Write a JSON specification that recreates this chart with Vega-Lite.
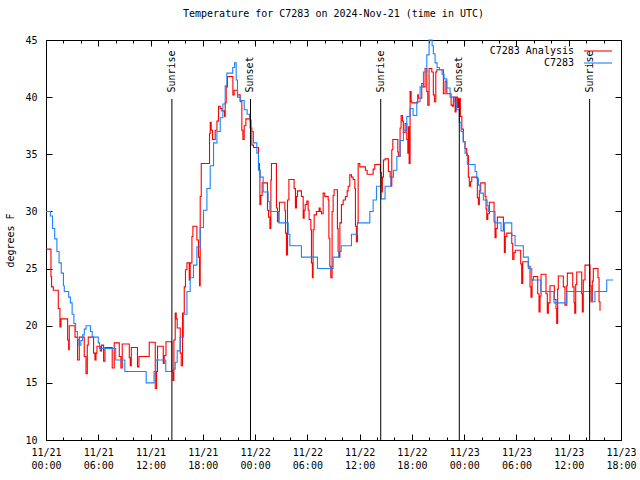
{
"$schema": "https://vega.github.io/schema/vega-lite/v6.json",
"width": 575, "height": 400,
"autosize": {"type": "none"},
"padding": {"left": 46, "top": 40, "right": 19, "bottom": 40},
"title": {"text": "Temperature for C7283 on 2024-Nov-21 (time in UTC)", "font": "DejaVu Sans Mono", "fontSize": 10, "fontWeight": "normal", "color": "black", "anchor": "middle", "offset": 16},
"config": {
  "view": {"stroke": "black", "strokeWidth": 1},
  "axis": {"domain": false, "grid": false, "labelFont": "DejaVu Sans Mono", "labelFontSize": 10, "labelColor": "black", "tickColor": "black", "tickWidth": 1, "titleFont": "DejaVu Sans Mono", "titleFontSize": 10, "titleFontWeight": "normal", "titleColor": "black"}
},
"datasets": {
"obs": [{"h":0,"t":30},{"h":0.5,"t":29.6},{"h":0.75,"t":28.5},{"h":1.0,"t":27.6},{"h":1.25,"t":26.5},{"h":1.5,"t":25.5},{"h":1.75,"t":24.6},{"h":2.0,"t":23.5},{"h":2.1,"t":23.0},{"h":2.6,"t":22.5},{"h":2.8,"t":22.0},{"h":3.0,"t":21.0},{"h":3.2,"t":20.2},{"h":3.4,"t":19.5},{"h":3.6,"t":18.8},{"h":3.8,"t":18.3},{"h":4.0,"t":18.7},{"h":4.2,"t":19.2},{"h":4.4,"t":19.7},{"h":4.6,"t":20.0},{"h":5.1,"t":19.5},{"h":5.3,"t":19.0},{"h":6.0,"t":18.5},{"h":6.15,"t":18.0},{"h":8.0,"t":17.0},{"h":9.05,"t":16.0},{"h":11.5,"t":15.0},{"h":12.4,"t":16.0},{"h":12.6,"t":17.0},{"h":13.75,"t":16.0},{"h":14.64,"t":16.2},{"h":14.83,"t":16.8},{"h":15.06,"t":17.8},{"h":15.4,"t":19.0},{"h":15.79,"t":21.0},{"h":16.18,"t":23.0},{"h":16.55,"t":24.2},{"h":16.93,"t":25.3},{"h":17.32,"t":26.9},{"h":17.7,"t":28.6},{"h":18.08,"t":30.1},{"h":18.47,"t":32.0},{"h":18.85,"t":34.0},{"h":19.23,"t":36.0},{"h":19.62,"t":37.0},{"h":20.0,"t":38.2},{"h":20.3,"t":39.4},{"h":20.57,"t":41.0},{"h":20.76,"t":42.1},{"h":21.43,"t":42.6},{"h":21.64,"t":43.0},{"h":21.83,"t":41.5},{"h":21.98,"t":40.0},{"h":22.29,"t":39.7},{"h":22.75,"t":38.9},{"h":23.09,"t":38.5},{"h":23.36,"t":38.0},{"h":23.55,"t":37.0},{"h":23.82,"t":36.0},{"h":24.2,"t":35.1},{"h":24.39,"t":33.6},{"h":24.58,"t":33.0},{"h":24.93,"t":31.7},{"h":25.5,"t":30.85},{"h":25.7,"t":30.0},{"h":26.73,"t":29.0},{"h":27.8,"t":28.0},{"h":27.99,"t":27.0},{"h":29.32,"t":26.0},{"h":31.16,"t":25.0},{"h":32.96,"t":26.0},{"h":33.6,"t":26.5},{"h":33.88,"t":27.0},{"h":35.06,"t":28.0},{"h":35.75,"t":29.0},{"h":37.17,"t":30.0},{"h":37.55,"t":31.0},{"h":37.93,"t":32.2},{"h":38.47,"t":31.1},{"h":38.92,"t":32.2},{"h":39.6,"t":33.0},{"h":39.88,"t":33.6},{"h":40.27,"t":34.8},{"h":40.64,"t":36.2},{"h":41.02,"t":37.1},{"h":41.41,"t":38.3},{"h":41.79,"t":39.0},{"h":42.14,"t":38.4},{"h":42.56,"t":39.6},{"h":42.94,"t":40.9},{"h":43.32,"t":42.2},{"h":43.71,"t":43.7},{"h":43.97,"t":45.0},{"h":44.32,"t":44.5},{"h":44.46,"t":43.8},{"h":44.66,"t":43.0},{"h":44.89,"t":42.6},{"h":45.15,"t":42.4},{"h":45.46,"t":42.0},{"h":45.69,"t":41.6},{"h":46.0,"t":40.8},{"h":46.38,"t":40.0},{"h":46.84,"t":39.6},{"h":47.15,"t":38.9},{"h":47.44,"t":37.8},{"h":47.65,"t":37.0},{"h":47.88,"t":36.1},{"h":48.1,"t":35.1},{"h":48.37,"t":34.1},{"h":49.25,"t":33.5},{"h":49.44,"t":32.9},{"h":49.63,"t":32.3},{"h":49.82,"t":31.6},{"h":50.2,"t":31.0},{"h":50.63,"t":30.5},{"h":50.77,"t":30.0},{"h":51.54,"t":29.0},{"h":52.23,"t":28.3},{"h":52.61,"t":29.0},{"h":53.46,"t":27.9},{"h":53.84,"t":27.0},{"h":54.79,"t":26.0},{"h":55.36,"t":25.0},{"h":55.75,"t":24.0},{"h":56.79,"t":23.0},{"h":58.31,"t":22.0},{"h":59.77,"t":23.0},{"h":62.64,"t":22.1},{"h":63.01,"t":23.0},{"h":64.36,"t":24.0},{"h":65.1,"t":24.0}],
"ana": [{"h":0,"t":26.7},{"h":0.57,"t":24.3},{"h":0.64,"t":23.4},{"h":0.84,"t":23.1},{"h":1.41,"t":21.5},{"h":1.6,"t":19.9},{"h":1.72,"t":20.6},{"h":2.48,"t":18.75},{"h":2.6,"t":17.9},{"h":2.67,"t":20.0},{"h":3.33,"t":19.0},{"h":3.62,"t":17.0},{"h":3.82,"t":19.0},{"h":4.39,"t":17.3},{"h":4.59,"t":15.8},{"h":4.74,"t":18.3},{"h":4.85,"t":19.0},{"h":5.46,"t":17.6},{"h":5.62,"t":17.0},{"h":5.74,"t":17.6},{"h":5.85,"t":18.2},{"h":6.23,"t":17.8},{"h":6.38,"t":18.3},{"h":6.61,"t":16.9},{"h":6.77,"t":18.1},{"h":7.6,"t":16.3},{"h":7.83,"t":18.5},{"h":8.41,"t":17.3},{"h":8.6,"t":16.3},{"h":8.75,"t":18.4},{"h":9.56,"t":17.2},{"h":9.67,"t":16.5},{"h":9.79,"t":18.1},{"h":10.5,"t":16.4},{"h":10.67,"t":17.3},{"h":11.85,"t":18.55},{"h":12.54,"t":14.5},{"h":12.69,"t":16.0},{"h":12.8,"t":18.2},{"h":13.46,"t":16.7},{"h":13.57,"t":17.4},{"h":13.77,"t":18.6},{"h":14.45,"t":16.1},{"h":14.57,"t":15.2},{"h":14.68,"t":18.75},{"h":14.83,"t":21.1},{"h":14.95,"t":20.6},{"h":15.06,"t":19.8},{"h":15.41,"t":17.6},{"h":15.52,"t":16.5},{"h":15.67,"t":21.1},{"h":15.87,"t":23.4},{"h":16.01,"t":24.9},{"h":16.18,"t":25.5},{"h":16.44,"t":24.0},{"h":16.55,"t":25.5},{"h":16.75,"t":27.8},{"h":16.86,"t":28.7},{"h":17.32,"t":27.5},{"h":17.5,"t":26.0},{"h":17.62,"t":23.5},{"h":17.7,"t":31.3},{"h":17.82,"t":34.2},{"h":18.77,"t":36.8},{"h":18.85,"t":37.8},{"h":18.96,"t":37.1},{"h":19.11,"t":36.3},{"h":19.42,"t":37.1},{"h":19.62,"t":37.9},{"h":19.8,"t":39.2},{"h":20.0,"t":39.0},{"h":20.19,"t":38.8},{"h":20.49,"t":38.3},{"h":20.57,"t":39.5},{"h":20.68,"t":40.9},{"h":20.83,"t":41.8},{"h":21.45,"t":40.2},{"h":21.6,"t":40.6},{"h":21.98,"t":40.2},{"h":22.29,"t":39.6},{"h":22.48,"t":37.1},{"h":22.6,"t":36.3},{"h":22.75,"t":37.5},{"h":22.94,"t":38.1},{"h":23.44,"t":37.3},{"h":23.63,"t":35.8},{"h":23.82,"t":35.6},{"h":24.39,"t":34.2},{"h":24.5,"t":33.6},{"h":24.55,"t":30.6},{"h":24.66,"t":31.4},{"h":24.81,"t":32.5},{"h":25.42,"t":30.1},{"h":25.54,"t":29.5},{"h":25.7,"t":28.5},{"h":25.81,"t":32.75},{"h":25.88,"t":34.2},{"h":26.45,"t":30.3},{"h":26.57,"t":29.1},{"h":26.73,"t":30.0},{"h":26.8,"t":30.8},{"h":27.42,"t":30.1},{"h":27.49,"t":28.1},{"h":27.6,"t":26.2},{"h":27.72,"t":31.0},{"h":27.88,"t":32.8},{"h":28.48,"t":32.0},{"h":28.63,"t":30.3},{"h":28.75,"t":31.3},{"h":28.86,"t":31.8},{"h":29.32,"t":31.3},{"h":29.52,"t":29.4},{"h":29.63,"t":30.1},{"h":29.75,"t":30.6},{"h":29.94,"t":30.9},{"h":30.09,"t":30.1},{"h":30.2,"t":29.3},{"h":30.4,"t":28.4},{"h":30.47,"t":25.5},{"h":30.58,"t":24.2},{"h":30.66,"t":28.4},{"h":30.78,"t":29.7},{"h":31.04,"t":30.0},{"h":31.35,"t":30.3},{"h":31.47,"t":30.0},{"h":31.62,"t":29.8},{"h":31.81,"t":31.6},{"h":32.0,"t":31.3},{"h":32.39,"t":31.0},{"h":32.47,"t":27.65},{"h":32.58,"t":25.2},{"h":32.69,"t":24.2},{"h":32.84,"t":30.0},{"h":32.96,"t":31.4},{"h":33.07,"t":31.9},{"h":33.45,"t":28.5},{"h":33.53,"t":26.5},{"h":33.65,"t":26.0},{"h":33.73,"t":29.0},{"h":33.91,"t":30.6},{"h":34.11,"t":31.0},{"h":34.37,"t":31.3},{"h":34.57,"t":31.8},{"h":34.68,"t":32.2},{"h":34.87,"t":33.2},{"h":35.06,"t":33.0},{"h":35.25,"t":32.8},{"h":35.45,"t":32.0},{"h":35.52,"t":28.7},{"h":35.63,"t":27.35},{"h":35.75,"t":29.0},{"h":35.83,"t":34.2},{"h":36.02,"t":33.9},{"h":36.66,"t":33.6},{"h":36.86,"t":33.25},{"h":37.55,"t":33.7},{"h":37.74,"t":34.1},{"h":38.38,"t":33.4},{"h":38.5,"t":31.7},{"h":38.61,"t":33.0},{"h":38.73,"t":34.5},{"h":38.92,"t":34.6},{"h":39.3,"t":33.5},{"h":39.5,"t":33.0},{"h":39.61,"t":32.2},{"h":39.69,"t":35.4},{"h":39.81,"t":36.3},{"h":40.38,"t":35.2},{"h":40.45,"t":34.8},{"h":40.64,"t":37.3},{"h":40.76,"t":38.4},{"h":40.91,"t":37.9},{"h":41.02,"t":36.9},{"h":41.22,"t":37.7},{"h":41.41,"t":36.3},{"h":41.53,"t":35.1},{"h":41.6,"t":37.4},{"h":41.68,"t":34.2},{"h":41.79,"t":40.5},{"h":41.91,"t":39.6},{"h":41.99,"t":39.5},{"h":42.67,"t":40.2},{"h":42.74,"t":39.9},{"h":43.13,"t":41.2},{"h":43.32,"t":40.9},{"h":43.51,"t":42.5},{"h":43.71,"t":40.5},{"h":43.82,"t":39.3},{"h":43.97,"t":42.5},{"h":44.28,"t":42.2},{"h":44.46,"t":40.2},{"h":44.58,"t":39.6},{"h":44.74,"t":42.2},{"h":44.86,"t":42.4},{"h":45.61,"t":40.3},{"h":45.81,"t":41.4},{"h":46.0,"t":40.3},{"h":46.5,"t":39.3},{"h":46.65,"t":39.2},{"h":46.76,"t":40.0},{"h":46.96,"t":38.7},{"h":47.07,"t":40.0},{"h":47.22,"t":39.1},{"h":47.34,"t":39.9},{"h":47.56,"t":38.3},{"h":47.73,"t":37.2},{"h":47.91,"t":36.1},{"h":48.1,"t":35.5},{"h":48.29,"t":34.9},{"h":48.48,"t":33.0},{"h":48.59,"t":32.2},{"h":48.73,"t":32.6},{"h":48.87,"t":33.0},{"h":49.51,"t":31.2},{"h":49.63,"t":30.6},{"h":49.74,"t":31.8},{"h":49.9,"t":32.5},{"h":50.4,"t":31.3},{"h":50.51,"t":30.2},{"h":50.59,"t":29.3},{"h":50.71,"t":29.8},{"h":50.89,"t":30.8},{"h":51.43,"t":29.1},{"h":51.54,"t":27.7},{"h":51.66,"t":28.5},{"h":51.81,"t":29.5},{"h":52.5,"t":28.4},{"h":52.61,"t":26.4},{"h":52.72,"t":27.8},{"h":52.89,"t":28.1},{"h":53.46,"t":27.2},{"h":53.57,"t":25.8},{"h":53.72,"t":26.4},{"h":53.87,"t":26.6},{"h":54.49,"t":25.4},{"h":54.6,"t":23.7},{"h":54.72,"t":25.6},{"h":55.36,"t":25.2},{"h":55.56,"t":23.4},{"h":55.67,"t":22.5},{"h":55.79,"t":24.0},{"h":55.94,"t":24.3},{"h":56.44,"t":22.8},{"h":56.59,"t":21.2},{"h":56.71,"t":22.6},{"h":56.82,"t":24.5},{"h":57.39,"t":22.8},{"h":57.54,"t":21.1},{"h":57.66,"t":22.0},{"h":57.85,"t":23.5},{"h":58.35,"t":22.3},{"h":58.54,"t":21.5},{"h":58.62,"t":20.2},{"h":58.73,"t":23.2},{"h":58.8,"t":24.35},{"h":59.38,"t":23.4},{"h":59.57,"t":21.8},{"h":59.77,"t":23.5},{"h":59.84,"t":24.6},{"h":60.46,"t":23.4},{"h":60.61,"t":22.0},{"h":60.69,"t":21.1},{"h":60.8,"t":23.6},{"h":60.92,"t":24.7},{"h":61.49,"t":22.8},{"h":61.56,"t":21.2},{"h":61.67,"t":24.0},{"h":61.87,"t":25.3},{"h":62.44,"t":23.5},{"h":62.56,"t":22.1},{"h":62.71,"t":23.9},{"h":62.82,"t":25.0},{"h":63.36,"t":24.2},{"h":63.48,"t":22.1},{"h":63.59,"t":21.3}],
"sun": [{"h":14.45,"e":"Sunrise"},{"h":23.47,"e":"Sunset"},{"h":38.42,"e":"Sunrise"},{"h":47.44,"e":"Sunset"},{"h":62.4,"e":"Sunrise"}]
},
"resolve": {"axis": {"x": "independent", "y": "independent"}},
"layer": [
 {"data": {"name": "ana"},
  "mark": {"type": "line", "interpolate": "step-after", "strokeWidth": 1.1},
  "encoding": {
   "x": {"field": "h", "type": "quantitative", "scale": {"domain": [0, 66], "nice": false, "zero": false},
     "axis": {"orient": "bottom", "title": null, "values": [0,2,4,6,8,10,12,14,16,18,20,22,24,26,28,30,32,34,36,38,40,42,44,46,48,50,52,54,56,58,60,62,64,66],
       "labelExpr": "datum.value % 6 ? '' : ['11/' + (21 + floor(datum.value / 24)), (datum.value % 24 < 10 ? '0' : '') + (datum.value % 24) + ':00']",
       "tickSize": {"condition": {"test": "datum.value % 6 === 0", "value": -6}, "value": -3},
       "labelPadding": 13, "labelLineHeight": 13, "labelOverlap": false, "labelFlush": false, "labelBound": false, "labelBaseline": "top"}},
   "y": {"field": "t", "type": "quantitative", "scale": {"domain": [10, 45], "nice": false, "zero": false},
     "axis": {"orient": "left", "values": [10,15,20,25,30,35,40,45], "tickSize": -6, "labelPadding": 15, "title": "degrees F", "titleX": -36, "titleY": 200, "titleAngle": 270, "titleAlign": "center", "titleBaseline": "middle"}},
   "color": {"datum": "C7283 Analysis", "type": "nominal", "scale": {"domain": ["C7283 Analysis", "C7283"], "range": ["#ff0000", "#1a84ff"]},
     "legend": {"orient": "none", "legendX": 547, "legendY": 6, "title": null, "padding": 0, "symbolType": "M-5,0H5", "symbolSize": 31.36, "symbolStrokeWidth": 1.1, "labelAlign": "right", "labelOffset": -29, "labelFont": "DejaVu Sans Mono", "labelFontSize": 10, "labelColor": "black", "rowPadding": 2}}
  }},
 {"data": {"name": "obs"},
  "mark": {"type": "line", "interpolate": "step-after", "strokeWidth": 1.1},
  "encoding": {
   "x": {"field": "h", "type": "quantitative", "axis": {"orient": "top", "title": null, "labels": false, "values": [0,2,4,6,8,10,12,14,16,18,20,22,24,26,28,30,32,34,36,38,40,42,44,46,48,50,52,54,56,58,60,62,64,66],
       "tickSize": {"condition": {"test": "datum.value % 6 === 0", "value": -6}, "value": -3}}},
   "y": {"field": "t", "type": "quantitative", "axis": {"orient": "right", "title": null, "labels": false, "values": [10,15,20,25,30,35,40,45], "tickSize": -6}},
   "color": {"datum": "C7283", "type": "nominal"}
  }},
 {"data": {"name": "sun"},
  "mark": {"type": "rule", "color": "black", "strokeWidth": 1},
  "encoding": {
   "x": {"field": "h", "type": "quantitative", "axis": null},
   "y": {"datum": 10, "type": "quantitative", "axis": null},
   "y2": {"datum": 39.84}
  }},
 {"data": {"name": "sun"},
  "mark": {"type": "text", "angle": 270, "align": "left", "baseline": "middle", "font": "DejaVu Sans Mono", "fontSize": 10, "color": "black"},
  "encoding": {
   "x": {"field": "h", "type": "quantitative", "axis": null},
   "y": {"datum": 40.4, "type": "quantitative", "axis": null},
   "text": {"field": "e", "type": "nominal"}
  }}
]
}
